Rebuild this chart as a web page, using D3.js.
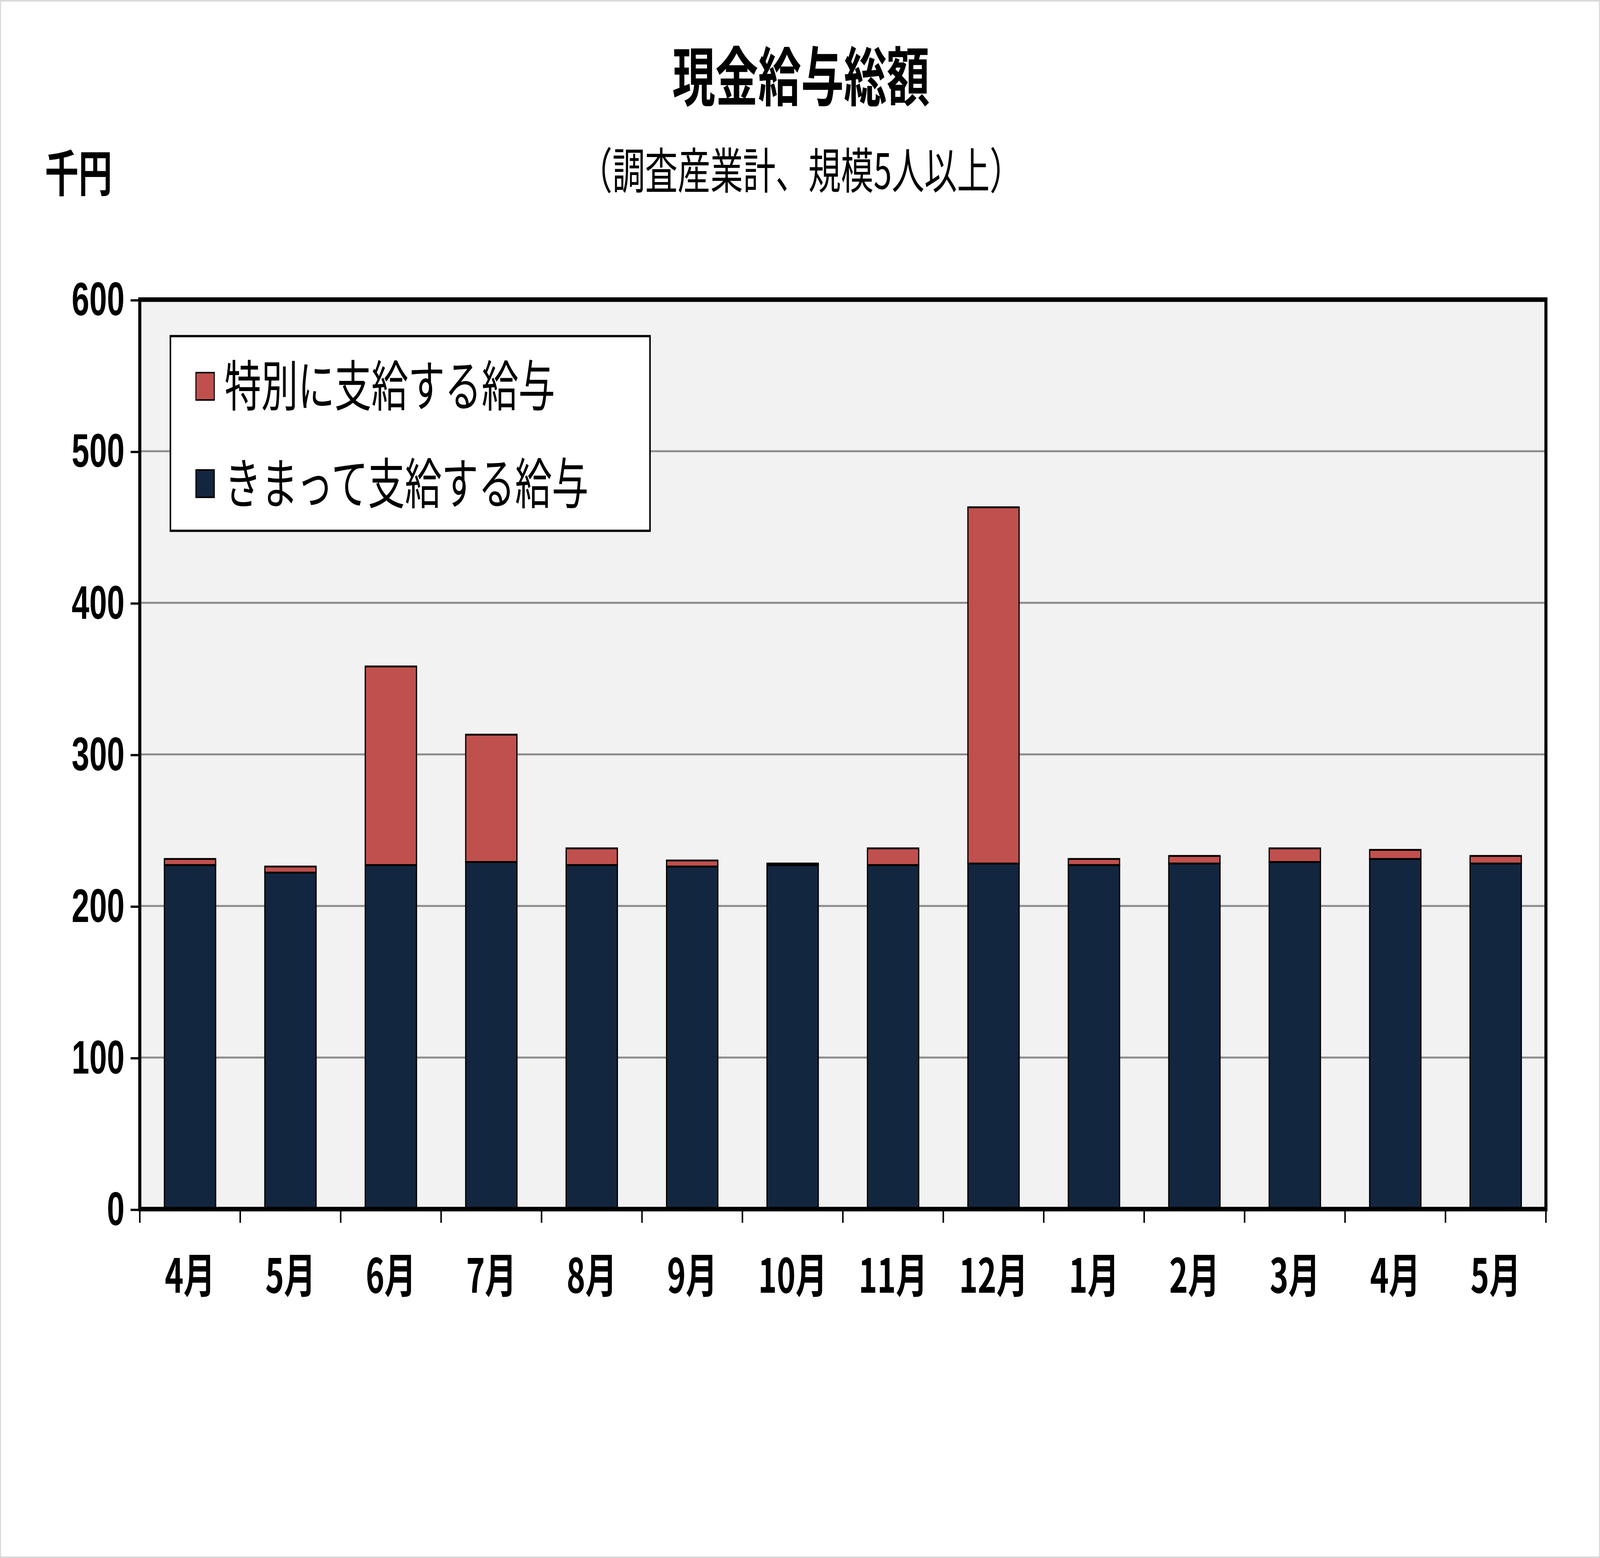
<!DOCTYPE html>
<html><head><meta charset="utf-8">
<script src="https://cdn.jsdelivr.net/npm/d3@7"></script>
<style>html,body{margin:0;background:#fff;overflow:hidden}</style>
</head><body>
<script>
var months = ["4月","5月","6月","7月","8月","9月","10月","11月","12月","1月","2月","3月","4月","5月"];
var regular = [227,222,227,229,227,226,227,227,228,227,228,229,231,228];
var special = [4,4,131,84,11,4,1,11,235,4,5,9,6,5];
var yTicks = [0,100,200,300,400,500,600];

var W = 1568, H = 1024.4;
var svg = d3.select("body").append("svg")
  .attr("width", window.innerWidth || 6104).attr("height", window.innerHeight || 3988)
  .attr("viewBox", "0 0 " + W + " " + H)
  .attr("preserveAspectRatio", "none")
  .style("display", "block")
  .style("font-family", "'Noto Sans CJK JP', sans-serif");

svg.append("rect").attr("x", 0.5).attr("y", 0.5).attr("width", W - 1).attr("height", H - 1)
  .style("fill", "#fff").style("stroke", "#d9d9d9");

var plotL = 137, plotR = 1515, plotT = 197, plotB = 795;
var x = d3.scaleBand().domain(d3.range(months.length)).range([plotL, plotR]).paddingInner(0.49).paddingOuter(0.245);
var y = d3.scaleLinear().domain([0, 600]).range([plotB, plotT]);

svg.append("rect").attr("x", plotL).attr("y", plotT).attr("width", plotR - plotL).attr("height", plotB - plotT)
  .style("fill", "#f2f2f2");

svg.selectAll("line.grid").data(yTicks.slice(1, -1)).enter().append("line")
  .attr("x1", plotL).attr("x2", plotR)
  .attr("y1", function (d) { return y(d); }).attr("y2", function (d) { return y(d); })
  .style("stroke", "#8c8c8c").style("stroke-width", 1.3);

var stack = months.map(function (m, i) { return { i: i, r: regular[i], s: special[i] }; });

svg.selectAll("rect.reg").data(stack).enter().append("rect")
  .attr("x", function (d) { return x(d.i); }).attr("width", x.bandwidth())
  .attr("y", function (d) { return y(d.r); }).attr("height", function (d) { return y(0) - y(d.r); })
  .style("fill", "#13263f").style("stroke", "#000").style("stroke-width", 1.2);

svg.selectAll("rect.sp").data(stack).enter().append("rect")
  .attr("x", function (d) { return x(d.i); }).attr("width", x.bandwidth())
  .attr("y", function (d) { return y(d.r + d.s); }).attr("height", function (d) { return y(d.r) - y(d.r + d.s); })
  .style("fill", "#c0504d").style("stroke", "#000").style("stroke-width", 1.2);

svg.append("rect").attr("x", plotL).attr("y", plotT).attr("width", plotR - plotL).attr("height", plotB - plotT)
  .style("fill", "none").style("stroke", "#000").style("stroke-width", 3);

// y axis
var yAxis = svg.append("g").attr("transform", "translate(" + plotL + ",0)")
  .call(d3.axisLeft(y).tickValues(yTicks).tickSize(9).tickPadding(6));
yAxis.select(".domain").remove();
yAxis.selectAll("line").style("stroke", "#000").style("stroke-width", 1.5);
yAxis.selectAll("text").style("font-size", "31px").style("font-weight", "bold").style("fill", "#000")
  .style("font-family", "'Liberation Sans', sans-serif");

// x axis ticks between categories
var step = x.step();
svg.selectAll("line.xt").data(d3.range(months.length + 1)).enter().append("line")
  .attr("x1", function (d) { return plotL + d * step; }).attr("x2", function (d) { return plotL + d * step; })
  .attr("y1", plotB).attr("y2", plotB + 9)
  .style("stroke", "#000").style("stroke-width", 1.5);
svg.selectAll("text.xl").data(months).enter().append("text")
  .attr("x", function (d, i) { return x(i) + x.bandwidth() / 2; }).attr("y", 850)
  .attr("text-anchor", "middle").style("font-size", "31px").style("font-weight", "bold")
  .text(function (d) { return d; });

// titles
svg.append("text").attr("x", 785).attr("y", 66).attr("text-anchor", "middle")
  .style("font-size", "42px").style("font-weight", "bold").text("現金給与総額");
svg.append("text").attr("x", 785).attr("y", 124).attr("text-anchor", "middle")
  .style("font-size", "32px").text("（調査産業計、規模5人以上）");
svg.append("text").attr("x", 44).attr("y", 126)
  .style("font-size", "33px").style("font-weight", "bold").text("千円");

// legend
var lg = svg.append("g");
lg.append("rect").attr("x", 167).attr("y", 221).attr("width", 470).attr("height", 128)
  .style("fill", "#fff").style("stroke", "#000").style("stroke-width", 1.5);
var legendItems = [{ name: "特別に支給する給与", color: "#c0504d" }, { name: "きまって支給する給与", color: "#13263f" }];
legendItems.forEach(function (d, i) {
  var cy = 254 + i * 64;
  lg.append("rect").attr("x", 192).attr("y", cy - 9).attr("width", 18).attr("height", 18)
    .style("fill", d.color).style("stroke", "#000").style("stroke-width", 1);
  lg.append("text").attr("x", 220).attr("y", cy + 13).style("font-size", "36px").text(d.name);
});
</script>
</body></html>
